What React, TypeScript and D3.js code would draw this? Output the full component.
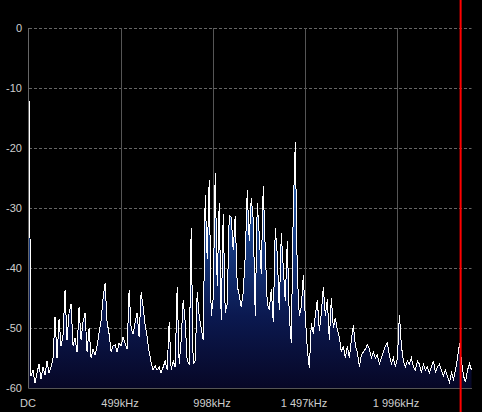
import { useEffect, useRef } from 'react';
import * as d3 from 'd3';

// spectrum levels in dB, one bin every ~10.8 kHz from DC up to 2.4 MHz
const lowBand = [
    -11.7, -58, -57, -59.2, -57.5, -56, -58.5, -56.5, -57.8, -55.5, -57.5, -56.5,
    -55, -48.2, -55, -48.5, -53, -51.2, -43.7, -52, -47.5, -46, -53, -51.7, -54,
    -46.5, -52, -49, -47.5, -54, -50, -55, -53.5, -54.5, -53, -50.8, -48.7, -45,
    -42.5, -49, -51, -54, -53, -52.8, -54, -52.5, -53, -51.5, -52.5,
];
const midLowBand = [
    -53.5, -43.7, -50, -51, -49, -47.5, -51.5, -44, -46.5, -49.5, -51.5, -54,
    -55.7, -57, -56.3, -57, -56.5, -57.5, -56.5, -55.5, -57, -49, -57, -55.5,
    -56.5, -43.2, -56, -52, -45.3, -49, -55.5, -56, -33.3, -56, -55.5, -44, -48,
    -50, -52, -27.8, -38.5, -25.3, -48, -45, -24.2, -43, -29.2, -48.7,
];
const midHighBand = [
    -31, -47.5, -46, -31.2, -31.5, -37, -31.3, -43, -44.5, -46.5, -44, -38, -27,
    -35.5, -28.3, -32, -48, -29.2, -34.5, -41, -26.3, -37, -46, -47, -43.5, -49,
    -33.3, -37.8, -47, -34.2, -40, -45.5, -35.5, -48, -52.5, -30, -19, -41, -48,
    -46.5, -41.2, -48.2, -53.5,
];
const highBand = [
    -56.7, -49.2, -51, -47.8, -45.3, -50.5, -47.5, -43.2, -48, -45.2, -52, -45,
    -50, -48.3, -50.3, -51.5, -54, -53, -55, -53, -55, -52, -49.5, -53, -54,
    -56.5, -54.5, -54, -53.5, -52.8, -53.5, -55, -54, -55, -54.5, -56, -55, -54,
    -53, -52.5, -54.5, -56, -55, -56.5,
];
const topBand = [
    -55, -47.8, -53, -55.5, -56.5, -55.5, -56, -55, -56.5, -57, -55.5, -56,
    -57.5, -56, -57, -56.5, -57.5, -56.5, -55.5, -57.5, -56.5, -56, -57, -58,
    -57, -58, -59, -57.5, -58.5, -57, -55, -52.5, -55.5, -58, -59, -57, -56, -57,
];

const yTicks = [0, -10, -20, -30, -40, -50, -60];
const xTickFreqs = [0, 499, 998, 1497, 1996];
const xTickLabels = ['DC', '499kHz', '998kHz', '1 497kHz', '1 996kHz'];
const spanKHz = 2400;
const markerFreq = 2341;

function Spectrum() {
    const chartRef = useRef(null);

    useEffect(() => {
        const svg = d3.select(chartRef.current);
        svg.selectAll('*').remove();

        const width = 482;
        const height = 412;
        const left = 29, right = 471.5, top = 28, bottom = 388;

        const levels = [...lowBand, ...midLowBand, ...midHighBand, ...highBand, ...topBand];
        const binWidth = spanKHz / (levels.length - 1);
        const data = levels.map((v, i) => ({ f: i * binWidth, v }));

        const x = d3.scaleLinear().domain([0, spanKHz]).range([left, right]);
        const y = d3.scaleLinear().domain([-60, 0]).range([bottom, top]);

        svg.append('rect').attr('width', width).attr('height', height).attr('fill', '#000');

        const defs = svg.append('defs');
        const grad = defs.append('linearGradient')
            .attr('id', 'specFill')
            .attr('gradientUnits', 'userSpaceOnUse')
            .attr('x1', 0).attr('x2', 0)
            .attr('y1', y(0)).attr('y2', y(-60));
        [
            [0, '#5a9ae6'],
            [0.35, '#2c66b8'],
            [0.6, '#163a80'],
            [0.8, '#0b1950'],
            [1, '#070726'],
        ].forEach(([o, c]) => grad.append('stop').attr('offset', o as number).attr('stop-color', c as string));

        // horizontal dashed grid
        svg.append('g')
            .selectAll('line')
            .data(yTicks.filter((t) => t > -60))
            .enter()
            .append('line')
            .attr('x1', left)
            .attr('x2', right)
            .attr('y1', (d) => Math.round(y(d)) + 0.5)
            .attr('y2', (d) => Math.round(y(d)) + 0.5)
            .attr('stroke', '#666')
            .attr('stroke-dasharray', '3,2');

        // vertical grid
        svg.append('g')
            .selectAll('line')
            .data(xTickFreqs.slice(1))
            .enter()
            .append('line')
            .attr('x1', (d) => Math.round(x(d)) + 0.5)
            .attr('x2', (d) => Math.round(x(d)) + 0.5)
            .attr('y1', top)
            .attr('y2', bottom)
            .attr('stroke', '#555');

        // spectrum fill + trace
        const area = d3.area<any>()
            .x((d) => x(d.f))
            .y0(y(-60))
            .y1((d) => y(d.v));
        svg.append('path').datum(data).attr('d', area).attr('fill', 'url(#specFill)');

        const line = d3.line<any>()
            .x((d) => x(d.f))
            .y((d) => y(d.v));
        svg.append('path')
            .datum(data)
            .attr('d', line)
            .attr('fill', 'none')
            .attr('stroke', '#fff')
            .attr('stroke-width', 1)
            .attr('shape-rendering', 'crispEdges');

        // axis frame
        svg.append('line')
            .attr('x1', left - 0.5).attr('x2', left - 0.5)
            .attr('y1', top).attr('y2', bottom + 0.5)
            .attr('stroke', '#666');
        svg.append('line')
            .attr('x1', left - 0.5).attr('x2', right + 0.5)
            .attr('y1', bottom + 0.5).attr('y2', bottom + 0.5)
            .attr('stroke', '#555');

        // labels
        svg.append('g')
            .selectAll('text')
            .data(yTicks)
            .enter()
            .append('text')
            .attr('x', 22)
            .attr('y', (d) => y(d) + 4)
            .attr('text-anchor', 'end')
            .attr('fill', '#cfcfcf')
            .attr('font-family', '"Liberation Sans", Arial, sans-serif')
            .attr('font-size', 11)
            .text((d) => d);

        svg.append('g')
            .selectAll('text')
            .data(xTickFreqs)
            .enter()
            .append('text')
            .attr('x', (d) => x(d) - 1)
            .attr('y', 407)
            .attr('text-anchor', 'middle')
            .attr('fill', '#cfcfcf')
            .attr('font-family', '"Liberation Sans", Arial, sans-serif')
            .attr('font-size', 11)
            .text((_, i) => xTickLabels[i]);

        // marker
        svg.append('line')
            .attr('x1', x(markerFreq))
            .attr('x2', x(markerFreq))
            .attr('y1', 0)
            .attr('y2', height)
            .attr('stroke', '#ff0000')
            .attr('stroke-width', 2);
    }, []);

    return (
        <svg
            ref={chartRef}
            width="482"
            height="412"
            style={{ position: 'fixed', left: 0, top: 0, display: 'block' }}
        ></svg>
    );
}

export default function App() {
    return <Spectrum />;
}
